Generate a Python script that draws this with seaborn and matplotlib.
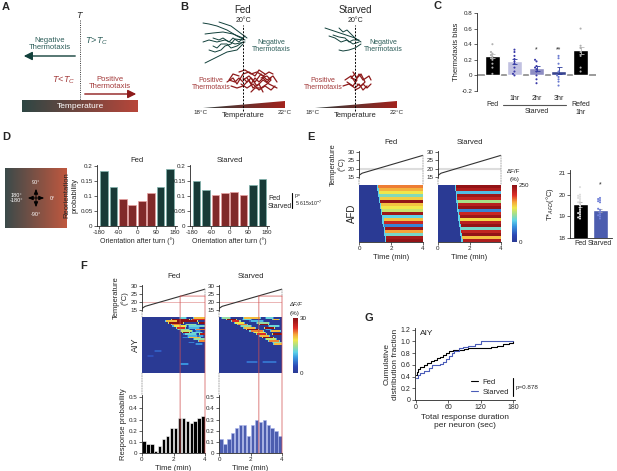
import numpy as np
import pandas as pd
import matplotlib
matplotlib.use("Agg")
import matplotlib.pyplot as plt
import seaborn as sns
from matplotlib.patches import ConnectionPatch, Polygon
from matplotlib.colors import LinearSegmentedColormap

sns.set_style("ticks")
plt.rcParams['font.family'] = ['Liberation Sans', 'DejaVu Sans']
plt.rcParams.update({
    'axes.linewidth': 0.6, 'xtick.major.width': 0.5, 'ytick.major.width': 0.5,
    'xtick.major.size': 2, 'ytick.major.size': 2, 'xtick.major.pad': 1.2,
    'ytick.major.pad': 1.2, 'xtick.labelsize': 4.5, 'ytick.labelsize': 4.5,
    'axes.labelsize': 5.5, 'axes.labelpad': 1.5, 'mathtext.fontset': 'custom',
    'mathtext.rm': 'Liberation Sans', 'mathtext.it': 'Liberation Sans:italic',
    'axes.unicode_minus': False,
})

# ---------------- data ----------------
TEAL = '#12403b'
RED = '#8e1b1b'
BLUE = '#3b52bf'

# Panel B trajectories (mm relative to 20 C line)
fed_neg_tracks = [
    [(1, 36), (-3, 38), (-8, 41), (-13, 43), (-17, 44), (-20, 44.5)],
    [(0, 37), (-5, 39), (-10, 40), (-15, 39.5), (-19, 39)],
    [(1, 35), (-4, 34), (-9, 36), (-13, 35), (-17, 36), (-20, 35)],
    [(0, 34), (-3, 31), (-8, 30), (-12, 28), (-16, 26), (-19, 24.5)],
    [(2, 37), (-2, 40), (-6, 43), (-9, 44), (-12, 45)],
    [(0, 36), (-4, 36.5), (-6, 34), (-9, 33), (-11, 31), (-14, 30), (-17, 31)],
    [(1, 38), (-2, 35), (-5, 37), (-7, 35), (-10, 37), (-12, 36), (-15, 37)],
    [(0, 35), (-3, 33), (-6, 32), (-8, 34), (-11, 34), (-13, 32), (-15, 33)],
]
fed_pos_tracks = [
    [(0, 16), (3, 18), (6, 15), (9, 19), (12, 16), (15, 18), (17, 15)],
    [(-1, 14), (2, 12), (5, 14), (8, 11), (11, 13), (14, 11), (16, 13)],
    [(-8, 15), (-5, 17), (-3, 14), (0, 19), (3, 20), (6, 18), (8, 21), (11, 19)],
    [(0, 17), (2, 15), (4, 17), (7, 13), (10, 16), (13, 14), (17, 12)],
    [(-6, 13), (-3, 12), (0, 13), (3, 16), (5, 12), (8, 14), (10, 10)],
    [(-2, 20), (1, 21), (4, 19), (7, 20), (10, 18), (13, 20), (15, 19)],
    [(0, 15), (-2, 17), (-4, 15), (-7, 16), (-5, 19), (-2, 18)],
    [(4, 10), (6, 12), (9, 12), (12, 14), (14, 16), (12, 18), (9, 17)],
    [(2, 17), (4, 14), (6, 17), (8, 15), (10, 17), (12, 15), (14, 17)],
]
starved_neg_tracks = [
    [(3, 35), (0, 37), (-3, 38), (-6, 39), (-9, 40), (-12, 41), (-15, 42)],
    [(2, 35), (-1, 34), (-4, 36), (-7, 35), (-10, 37), (-13, 38)],
    [(3, 34), (0, 32), (-3, 31), (-6, 30.5), (-8, 31)],
    [(1, 36), (-2, 39), (-4, 41), (-6, 40), (-8, 42)],
    [(2, 36), (-1, 36), (-3, 35), (-5, 37), (-8, 37.5), (-11, 38.5)],
]
starved_pos_tracks = [
    [(-5, 16), (-2, 18), (0, 15), (2, 19), (4, 16), (7, 18), (8, 16)],
    [(-6, 13), (-3, 14), (0, 12), (2, 14), (4, 11), (6, 13)],
    [(-1, 20), (1, 17), (3, 19), (5, 15), (3, 13), (1, 14)],
    [(-4, 15), (-1, 13), (1, 16), (-2, 17), (0, 19)],
    [(0, 11), (2, 12), (4, 14), (6, 12), (8, 14)],
]

# Panel C
c_groups = ['Fed', '1hr', '2hr', '3hr', 'Refed']
c_means = [0.25, 0.18, 0.09, 0.06, 0.32]
c_sems = [0.03, 0.035, 0.03, 0.045, 0.05]
c_bar_colors = ['#000000', '#bcbce6', '#8585cc', '#2a3a9c', '#000000']
c_dot_colors = ['#b0b0b0', '#3a3aa8', '#3a3aa8', '#6a7ad0', '#b0b0b0']
c_dots_fed = [0.40, 0.30, 0.28, 0.26, 0.24, 0.22, 0.20, 0.15, 0.10, 0.02]
c_dots_1hr = [0.33, 0.30, 0.25, 0.21, 0.18, 0.15, 0.10, 0.05, 0.02, 0.0]
c_dots_2hr = [0.20, 0.18, 0.12, 0.10, 0.08, 0.05, 0.0, -0.05, -0.10]
c_dots_3hr = [0.25, 0.22, 0.15, 0.05, 0.0, -0.02, -0.05, -0.08, -0.13]
c_dots_refed = [0.60, 0.38, 0.35, 0.30, 0.25, 0.10, 0.05]

# Panel D
d_orient = [-157.5, -112.5, -67.5, -22.5, 22.5, 67.5, 112.5, 157.5]
d_kind = ['neg', 'neg', 'pos', 'pos', 'pos', 'pos', 'neg', 'neg']
d_fed = [0.185, 0.13, 0.09, 0.072, 0.085, 0.11, 0.13, 0.19]
d_starved = [0.15, 0.12, 0.105, 0.11, 0.115, 0.105, 0.137, 0.158]

# Temperature ramp (E, F)
temp_time = [0.0, 0.2, 4.0]
temp_vals = [16.0, 17.3, 28.0]

# Panel E AFD heatmap rows
afd_fed_onset = [1.12, 1.15, 1.18, 1.21, 1.24, 1.27, 1.30, 1.33, 1.36, 1.39,
                 1.42, 1.45, 1.47, 1.50, 1.52, 1.55, 1.57, 1.60, 1.63]
afd_fed_level = [185, 170, 150, 110, 160, 245, 165, 150, 135, 240,
                 95, 165, 215, 60, 240, 175, 105, 235, 245]
afd_starved_onset = [1.08, 1.10, 1.12, 1.14, 1.16, 1.18, 1.20, 1.22, 1.24, 1.26,
                     1.28, 1.30, 1.32, 1.34, 1.36, 1.38, 1.41, 1.44, 1.48]
afd_starved_level = [245, 230, 85, 240, 220, 125, 225, 245, 60, 215,
                     240, 155, 225, 245, 105, 220, 245, 165, 230]

# Panel E T*AFD
t_groups = ['Fed', 'Starved']
t_means = [19.55, 19.27]
t_sems = [0.13, 0.09]
t_dots_fed = [20.35, 20.0, 19.95, 19.9, 19.85, 19.8, 19.7, 19.65, 19.6, 19.5, 19.4,
              19.3, 19.2, 19.15, 19.1, 19.0, 18.95, 18.9]
t_dots_starved = [19.85, 19.8, 19.75, 19.7, 19.65, 19.35, 19.3, 19.2, 19.1, 19.05,
                  19.0, 18.9]

# Panel F AIY events: (row, start min, end min, dF/F %)
aiy_rows = 34
aiy_fed_events = [
    (0, 2.4, 2.8, 12), (0, 3.3, 4.0, 20), (1, 1.9, 3.0, 30), (1, 3.2, 4.0, 25),
    (2, 1.5, 2.2, 20), (2, 2.2, 3.5, 30), (3, 1.7, 2.6, 30), (3, 3.6, 4.0, 30),
    (4, 1.9, 2.4, 22), (4, 2.8, 3.4, 14), (5, 2.0, 2.8, 18), (5, 3.0, 4.0, 12),
    (6, 2.2, 2.7, 25), (6, 3.0, 3.6, 10), (7, 2.3, 3.0, 14), (7, 3.4, 4.0, 22),
    (8, 2.5, 3.2, 16), (8, 3.4, 3.7, 8), (9, 2.6, 3.0, 30), (9, 3.2, 3.8, 12),
    (10, 2.7, 3.4, 12), (10, 3.7, 4.0, 28), (11, 2.9, 3.5, 10), (11, 3.6, 3.9, 9),
    (12, 2.6, 2.9, 7), (12, 3.0, 3.7, 20), (13, 3.3, 4.0, 14), (14, 3.6, 4.0, 22),
    (15, 3.0, 3.3, 7), (16, 3.4, 3.8, 8), (20, 0.8, 1.2, 5), (23, 0.4, 0.7, 4),
    (28, 2.5, 2.9, 8),
]
aiy_starved_events = [
    (0, 0.2, 0.7, 14), (0, 1.6, 2.6, 20), (0, 3.0, 3.4, 12), (1, 0.5, 1.1, 30),
    (1, 1.5, 2.0, 12), (1, 3.4, 3.8, 20), (2, 0.8, 1.3, 25), (2, 2.0, 2.8, 10),
    (3, 1.0, 1.6, 18), (3, 2.4, 3.2, 14), (4, 1.2, 1.8, 22), (4, 2.6, 3.1, 30),
    (5, 1.4, 2.0, 14), (5, 3.2, 3.8, 12), (6, 1.6, 2.3, 20), (6, 2.9, 3.5, 30),
    (7, 1.8, 2.5, 30), (7, 3.0, 3.3, 9), (8, 2.0, 2.8, 22), (8, 3.3, 3.9, 20),
    (9, 2.2, 2.9, 18), (10, 2.4, 3.0, 25), (10, 3.4, 4.0, 30), (11, 2.6, 3.2, 20),
    (12, 2.8, 3.4, 30), (13, 3.0, 3.6, 16), (14, 3.2, 3.8, 22), (15, 3.4, 4.0, 14),
    (16, 3.5, 4.0, 20), (27, 1.8, 2.4, 6), (27, 2.8, 3.6, 6),
]
f_bin_centers = [0.125, 0.375, 0.625, 0.875, 1.125, 1.375, 1.625, 1.875,
                 2.125, 2.375, 2.625, 2.875, 3.125, 3.375, 3.625, 3.875]
f_fed_resp = [0.105, 0.085, 0.085, 0.02, 0.065, 0.13, 0.155, 0.22,
              0.22, 0.31, 0.31, 0.29, 0.27, 0.29, 0.31, 0.33]
f_starved_resp = [0.13, 0.085, 0.13, 0.18, 0.22, 0.25, 0.25, 0.155,
                  0.25, 0.30, 0.28, 0.30, 0.25, 0.22, 0.20, 0.155]
f_red_temp = 23.7
f_red_time_fed = 2.42
f_red_time_starved = 2.53

# Panel G cumulative distributions (step breakpoints)
g_fed_x = [0, 2, 4, 8, 14, 20, 28, 34, 38, 44, 50, 56, 62, 68, 90, 96, 140, 150, 162, 172, 180]
g_fed_y = [0.42, 0.47, 0.53, 0.56, 0.60, 0.63, 0.66, 0.68, 0.72, 0.74, 0.77, 0.80,
           0.84, 0.85, 0.87, 0.88, 0.90, 0.93, 0.95, 0.98, 1.0]
g_starved_x = [0, 3, 8, 14, 24, 30, 44, 50, 56, 62, 66, 70, 80, 88, 96, 110, 120, 180]
g_starved_y = [0.38, 0.42, 0.46, 0.50, 0.55, 0.59, 0.61, 0.65, 0.70, 0.76, 0.80,
               0.84, 0.88, 0.90, 0.93, 0.96, 1.0, 1.0]

# ---------------- figure ----------------
W, H = 617, 471
fig = plt.figure(figsize=(W / 100, H / 100), dpi=100)

HEAT = LinearSegmentedColormap.from_list('heat', [
    (0.0, '#2a3a94'), (0.12, '#2d48b4'), (0.28, '#3a98e0'), (0.38, '#5fd3e8'),
    (0.5, '#a8e088'), (0.6, '#f0e64a'), (0.7, '#f5a63a'), (0.82, '#dd2e28'),
    (1.0, '#8a1014')])


def pax(x0, y0, x1, y1):
    return fig.add_axes([x0 / W, 1 - y1 / H, (x1 - x0) / W, (y1 - y0) / H])


def ftext(x, y, s, **kw):
    kw.setdefault('ha', 'center')
    kw.setdefault('va', 'center')
    fig.text(x / W, 1 - y / H, s, **kw)


def connect(axA, pA, axB, pB, **kw):
    con = ConnectionPatch(xyA=pA, coordsA=axA.transData, xyB=pB, coordsB=axB.transData, **kw)
    fig.add_artist(con)


for lab, x, y in [('A', 6, 7), ('B', 184, 7), ('C', 437, 6), ('D', 6, 137),
                  ('E', 311, 137), ('F', 84, 266), ('G', 369, 318)]:
    ftext(x, y, lab, fontsize=8, fontweight='bold')

grad = np.linspace(0, 1, 256).reshape(1, -1)

# ---- Panel A ----
axA = pax(0, 0, 150, 120)
axA.set_xlim(0, 150); axA.set_ylim(120, 0); axA.axis('off')
cmapA = LinearSegmentedColormap.from_list('a', ['#2e4644', '#b8463a'])
axA.imshow(grad, extent=(22, 138, 112, 100), aspect='auto', cmap=cmapA)
axA.set_xlim(0, 150); axA.set_ylim(120, 0)
axA.text(80, 106.5, 'Temperature', color='white', fontsize=6, ha='center', va='center')
axA.plot([80, 80], [20, 100], ls=(0, (1, 1.3)), color='#333333', lw=0.7)
axA.text(80, 15, '$T$', fontsize=6.5, ha='center', va='center')
axA.annotate('', xy=(21, 56), xytext=(78, 56),
             arrowprops=dict(arrowstyle='-|>,head_width=0.25,head_length=0.5', color=TEAL, lw=1.0))
axA.annotate('', xy=(139, 94), xytext=(82, 94),
             arrowprops=dict(arrowstyle='-|>,head_width=0.25,head_length=0.5', color=RED, lw=1.0))
axA.text(50, 44, 'Negative\nThermotaxis', color='#2d5e5a', fontsize=5.5, ha='center', va='center', linespacing=1.1)
axA.text(110, 83, 'Positive\nThermotaxis', color='#a33a3a', fontsize=5.5, ha='center', va='center', linespacing=1.1)
axA.text(85, 41, r'$T\!>\!T_C$', color='#2d5e5a', fontsize=6.5, ha='left', va='center')
axA.text(75, 80, r'$T\!<\!T_C$', color='#a33a3a', fontsize=6.5, ha='right', va='center')

# ---- Panel B ----
cmapB = LinearSegmentedColormap.from_list('b', ['#2f3d3c', '#a3231d'])


def panel_b(x0, title, neg, pos):
    ax = pax(x0, 12, x0 + 100, 118)
    ax.axis('off')
    im = ax.imshow(grad, extent=(-20, 21, 2, 5.5), aspect='auto', cmap=cmapB, origin='lower')
    tri = Polygon([(-20, 2), (21, 2), (21, 5.5)], closed=True, transform=ax.transData,
                  facecolor='none', edgecolor='none')
    ax.add_patch(tri)
    im.set_clip_path(tri)
    for tr in neg:
        xs, ys = zip(*tr)
        sns.lineplot(x=list(xs), y=list(ys), sort=False, estimator=None, color=TEAL, lw=0.7, ax=ax)
    for tr in pos:
        xs, ys = zip(*tr)
        sns.lineplot(x=list(xs), y=list(ys), sort=False, estimator=None, color=RED, lw=0.9, ax=ax)
    ax.plot([0, 0], [0.5, 43.5], ls=(0, (2, 1.5)), color='black', lw=0.7)
    ax.set_xlim(-25, 25); ax.set_ylim(-3, 50)
    ax.text(0, 50.8, title, fontsize=7, ha='center', va='center', clip_on=False)
    ax.text(0, 46, '20°C', fontsize=5, ha='center', va='center')
    ax.text(-21.5, 0, '18°C', fontsize=4.5, ha='center', va='center')
    ax.text(21, 0, '22°C', fontsize=4.5, ha='center', va='center')
    ax.text(0, -1.8, 'Temperature', fontsize=5.5, ha='center', va='center', clip_on=False)
    ax.text(14, 33, 'Negative\nThermotaxis', color='#2d5e5a', fontsize=5, ha='center', va='center', linespacing=1.1)
    ax.text(-16, 14, 'Positive\nThermotaxis', color='#a33a3a', fontsize=5, ha='center', va='center', linespacing=1.1)


panel_b(193, 'Fed', fed_neg_tracks, fed_pos_tracks)
panel_b(305, 'Starved', starved_neg_tracks, starved_pos_tracks)

# ---- Panel C ----
axC = pax(477, 13, 596, 91)
c_dots = [c_dots_fed, c_dots_1hr, c_dots_2hr, c_dots_3hr, c_dots_refed]
sns.barplot(x=c_groups, y=c_means, hue=c_groups, palette=c_bar_colors, order=c_groups,
            width=0.68, legend=False, ax=axC)
for i, (m, s) in enumerate(zip(c_means, c_sems)):
    ec = '#bbbbbb' if c_bar_colors[i] == '#000000' else '#2a3a9c'
    axC.errorbar(i, m, yerr=s, fmt='none', ecolor=ec, capsize=1.8, elinewidth=0.6, capthick=0.6)
dfC = pd.DataFrame({'group': [g for g, d in zip(c_groups, c_dots) for _ in d],
                    'val': [v for d in c_dots for v in d]})
sns.swarmplot(data=dfC, x='group', y='val', hue='group', order=c_groups,
              palette=dict(zip(c_groups, c_dot_colors)), size=1.5, legend=False, ax=axC)
axC.axhline(0, color='#8a8a8a', lw=1.2, zorder=0.5)
axC.set_xlim(-0.7, 4.7); axC.set_ylim(-0.2, 0.8)
axC.set_yticks([-0.2, 0, 0.2, 0.4, 0.6, 0.8])
axC.set_yticklabels(['-0.2', '0', '0.2', '0.4', '0.6', '0.8'])
axC.set_xticks([]); axC.set_xlabel(''); axC.set_ylabel('Thermotaxis bias', fontsize=5.5)
for sp in ['top', 'right', 'bottom']:
    axC.spines[sp].set_visible(False)
trC = axC.get_xaxis_transform()
axC.text(0, -0.17, 'Fed', transform=trC, ha='center', va='center', fontsize=5)
for i, l in [(1, '1hr'), (2, '2hr'), (3, '3hr')]:
    axC.text(i, -0.10, l, transform=trC, ha='center', va='center', fontsize=5)
axC.plot([0.5, 3.35], [-0.18, -0.18], transform=trC, color='#555555', lw=0.8, clip_on=False)
axC.text(2, -0.26, 'Starved', transform=trC, ha='center', va='center', fontsize=5)
axC.text(4, -0.23, 'Refed\n1hr', transform=trC, ha='center', va='center', fontsize=5, linespacing=1.2)
axC.text(2, 0.33, '*', ha='center', va='center', fontsize=5)
axC.text(3, 0.33, '**', ha='center', va='center', fontsize=5)

# ---- Panel D ----
axSq = pax(5, 168, 67, 228)
cmapD = LinearSegmentedColormap.from_list('d', ['#3b4a4a', '#c0583f'])
axSq.imshow(grad, extent=(0, 62, 60, 0), aspect='auto', cmap=cmapD)
axSq.set_xlim(0, 62); axSq.set_ylim(60, 0); axSq.axis('off')
ap = dict(arrowstyle='<|-|>,head_width=0.12,head_length=0.3', color='black', lw=0.7)
axSq.annotate('', xy=(20, 30), xytext=(42, 30), arrowprops=ap)
axSq.annotate('', xy=(31, 18), xytext=(31, 42), arrowprops=ap)
for s, x, y in [('90°', 31, 14), ('-90°', 31, 46), ('0°', 47, 30.5), ('180°\n-180°', 11, 30)]:
    axSq.text(x, y, s, color='white', fontsize=4, ha='center', va='center', linespacing=1.0)

kind_pal = {'neg': TEAL, 'pos': RED}
edge_pal = {'neg': '#7fb3ad', 'pos': '#e8a0a0'}
for x0, x1, vals, title in [(97, 177, d_fed, 'Fed'), (190, 269, d_starved, 'Starved')]:
    ax = pax(x0, 165, x1, 226)
    sns.barplot(x=d_orient, y=vals, hue=d_kind, palette=kind_pal, native_scale=True,
                dodge=False, width=0.8, legend=False, ax=ax)
    for p, k in zip(sorted(ax.patches, key=lambda p: p.get_x()), d_kind):
        p.set_edgecolor(edge_pal[k]); p.set_linewidth(0.5)
    ax.set_xlim(-190, 190); ax.set_ylim(0, 0.205)
    ax.set_xticks([-180, -90, 0, 90, 180])
    ax.set_yticks([0, 0.05, 0.1, 0.15, 0.2])
    ax.set_yticklabels(['0', '0.05', '0.1', '0.15', '0.2'])
    ax.set_xlabel('Orientation after turn (°)', fontsize=5)
    ax.set_title(title, fontsize=5.5, pad=2)
    if title == 'Fed':
        ax.set_ylabel('Reorientation\nprobability', fontsize=5.5, linespacing=1.1)
    sns.despine(ax=ax)
ftext(268, 198, 'Fed', fontsize=5, ha='left')
ftext(268, 206, 'Starved', fontsize=5, ha='left')
fig.add_artist(plt.Line2D([292 / W, 292 / W], [1 - 193 / H, 1 - 208 / H], color='black', lw=0.8))
ftext(295, 195, 'p=', fontsize=3.8, ha='left')
ftext(295, 203, r'5.615x10$^{-7}$', fontsize=3.8, ha='left')

# ---- helpers for E/F ----
NCOL = 120
tgrid = (np.arange(NCOL) + 0.5) * 4.0 / NCOL


def afd_matrix(onsets, levels):
    M = np.full((len(onsets), NCOL), 0.0)
    for i, (on, lv) in enumerate(zip(onsets, levels)):
        M[i, tgrid >= on] = lv
        M[i, (tgrid >= on) & (tgrid < on + 0.08)] = 95
    return M


def aiy_matrix(events):
    M = np.full((aiy_rows, NCOL), 0.0)
    for r, s, e, lv in events:
        edge = ((tgrid >= s - 0.07) & (tgrid < s)) | ((tgrid >= e) & (tgrid < e + 0.07))
        M[r, edge] = np.maximum(M[r, edge], lv * 0.55)
        m = (tgrid >= s) & (tgrid < e)
        M[r, m] = np.maximum(M[r, m], lv)
    return M


def temp_axes(box, ylab):
    ax = pax(*box)
    sns.lineplot(x=temp_time, y=temp_vals, color='#333333', lw=0.8, ax=ax)
    ax.set_xlim(0, 4); ax.set_ylim(14.4, 30.6)
    ax.set_yticks([15, 20, 25, 30])
    ax.set_xticks([])
    for sp in ['top', 'right', 'bottom']:
        ax.spines[sp].set_visible(False)
    if ylab:
        ax.set_ylabel('Temperature\n(°C)', fontsize=5.5, linespacing=1.1)
    return ax


# ---- Panel E ----
afd_sets = [(359, 423, afd_matrix(afd_fed_onset, afd_fed_level), 'Fed'),
            (438, 501, afd_matrix(afd_starved_onset, afd_starved_level), 'Starved')]
caxE = pax(512, 185, 517, 242)
for k, (x0, x1, M, title) in enumerate(afd_sets):
    axT = temp_axes((x0, 151, x1, 178), k == 0)
    axT.axhline(20, color='#dddddd', lw=1.5, zorder=0)
    axT.set_title(title, fontsize=5.5, pad=5)
    axH = pax(x0, 185, x1, 242)
    sns.heatmap(M, cmap=HEAT, vmin=0, vmax=250, ax=axH, cbar=(k == 0),
                cbar_ax=caxE if k == 0 else None, cbar_kws={'ticks': [0, 250]},
                xticklabels=False, yticklabels=False, rasterized=True)
    axH.set_xticks([0, NCOL / 2, NCOL]); axH.set_xticklabels(['0', '2', '4'], rotation=0)
    axH.tick_params(bottom=True, left=False, length=2)
    axH.spines['bottom'].set_visible(True)
    axH.set_xlabel('Time (min)', fontsize=5.5)
    if k == 0:
        axH.set_ylabel('AFD', fontsize=7)
    connect(axT, (0, 14.4), axH, (0, 0), color='#999999', lw=0.6, ls=(0, (1.5, 1.5)))
    connect(axT, (4, 28), axH, (NCOL, 0), color='#999999', lw=0.6, ls=(0, (1.5, 1.5)))
caxE.tick_params(labelsize=4.5, length=0, pad=1.5)
for sp in caxE.spines.values():
    sp.set_visible(False)
ftext(514, 172, 'ΔF/F', fontsize=4.5)
ftext(515, 180, '(%)', fontsize=4.5)

axTs = pax(570, 170, 612, 238)
dfT = pd.DataFrame({'group': ['Fed'] * len(t_dots_fed) + ['Starved'] * len(t_dots_starved),
                    'val': t_dots_fed + t_dots_starved})
sns.barplot(x=t_groups, y=t_means, hue=t_groups, palette=['#000000', BLUE], width=0.75,
            legend=False, ax=axTs)
axTs.errorbar([0, 1], t_means, yerr=t_sems, fmt='none', ecolor='#aaaaaa', capsize=1.5,
              elinewidth=0.6, capthick=0.6)
sns.swarmplot(data=dfT, x='group', y='val', hue='group', palette=['#dddddd', '#7080d8'],
              size=1.5, legend=False, ax=axTs)
axTs.set_ylim(18, 21.14); axTs.set_xlim(-0.5, 1.6)
axTs.set_yticks([18, 19, 20, 21])
axTs.set_xlabel(''); axTs.set_ylabel(r'T*$_{AFD}$(°C)', fontsize=5.5)
axTs.tick_params(axis='x', labelsize=5, length=0)
axTs.text(1, 20.45, '*', ha='center', va='center', fontsize=5)
sns.despine(ax=axTs)

# ---- Panel F ----
aiy_sets = [(142, 205, aiy_matrix(aiy_fed_events), 'Fed', f_fed_resp, 'black', 'white', f_red_time_fed),
            (219, 282, aiy_matrix(aiy_starved_events), 'Starved', f_starved_resp, BLUE, '#a8b4ec',
             f_red_time_starved)]
caxF = pax(293, 318, 298, 373)
for k, (x0, x1, M, title, resp, col, ecol, tred) in enumerate(aiy_sets):
    axT = temp_axes((x0, 285, x1, 311), k == 0)
    axT.axhline(20, color='#e8a8a8', lw=0.6, zorder=0)
    axT.set_title(title, fontsize=5.5, pad=5)
    axH = pax(x0, 317, x1, 373)
    sns.heatmap(M, cmap=HEAT, vmin=0, vmax=30, ax=axH, cbar=(k == 0),
                cbar_ax=caxF if k == 0 else None, cbar_kws={'ticks': [0, 30]},
                xticklabels=False, yticklabels=False, rasterized=True)
    if k == 0:
        axH.set_ylabel('AIY', fontsize=6.5)
    axB = pax(x0, 395, x1, 453)
    sns.barplot(x=f_bin_centers, y=resp, native_scale=True, color=col, width=0.85,
                edgecolor=ecol, linewidth=0.4, ax=axB)
    axB.set_xlim(0, 4); axB.set_ylim(0, 0.52)
    axB.set_xticks([0, 2, 4]); axB.set_xticklabels(['0', '2', '4'])
    axB.set_yticks([0, 0.1, 0.2, 0.3, 0.4, 0.5])
    axB.set_yticklabels(['0', '0.1', '0.2', '0.3', '0.4', '0.5'])
    axB.set_xlabel('Time (min)', fontsize=5.5)
    if k == 0:
        axB.set_ylabel('Response probability', fontsize=5.5)
    sns.despine(ax=axB)
    gray = dict(color='#999999', lw=0.6, ls=(0, (1.5, 1.5)))
    connect(axT, (0, 14.4), axH, (0, 0), **gray)
    connect(axH, (0, aiy_rows), axB, (0, 0.52), **gray)
    connect(axT, (4, 28), axT, (4, f_red_temp), **gray)
    redkw = dict(color='#d05050', lw=0.6, alpha=0.85)
    connect(axT, (tred, f_red_temp), axB, (tred, 0), **redkw)
    connect(axT, (tred, f_red_temp), axT, (4, f_red_temp), **redkw)
    connect(axT, (4, f_red_temp), axB, (4, 0), **redkw)
caxF.tick_params(labelsize=4.5, length=0, pad=1.5)
for sp in caxF.spines.values():
    sp.set_visible(False)
ftext(296, 305, 'ΔF/F', fontsize=4.2, style='italic')
ftext(295, 313, '(%)', fontsize=4.5)

# ---- Panel G ----
axG = pax(415, 328, 515, 400)
sns.lineplot(x=g_fed_x, y=g_fed_y, drawstyle='steps-post', estimator=None, color='black',
             lw=0.8, label='Fed', ax=axG)
sns.lineplot(x=g_starved_x, y=g_starved_y, drawstyle='steps-post', estimator=None,
             color='#4a5cb8', lw=0.8, label='Starved', ax=axG)
axG.set_xlim(-2, 184); axG.set_ylim(0, 1.23)
axG.set_xticks([0, 60, 120, 180])
axG.set_yticks([0, 0.2, 0.4, 0.6, 0.8, 1.0, 1.2])
axG.set_yticklabels(['0', '0.2', '0.4', '0.6', '0.8', '1.0', '1.2'])
axG.tick_params(labelsize=5)
axG.set_xlabel('Total response duration\nper neuron (sec)', fontsize=6, linespacing=1.2)
axG.set_ylabel('Cumulative\ndistribution fraction', fontsize=6, linespacing=1.1)
axG.text(0.05, 0.93, 'AIY', transform=axG.transAxes, fontsize=6, ha='left', va='center')
axG.legend(loc='center left', bbox_to_anchor=(0.52, 0.18), frameon=False, fontsize=5.5,
           handlelength=1.0, handletextpad=0.5, labelspacing=0.3, borderpad=0)
axG.plot([0.98, 0.98], [0.05, 0.31], transform=axG.transAxes, color='black', lw=0.8, clip_on=False)
axG.text(1.01, 0.18, 'p=0.878', transform=axG.transAxes, fontsize=4.5, ha='left', va='center')
sns.despine(ax=axG)

fig.savefig('out.png', dpi=100)
